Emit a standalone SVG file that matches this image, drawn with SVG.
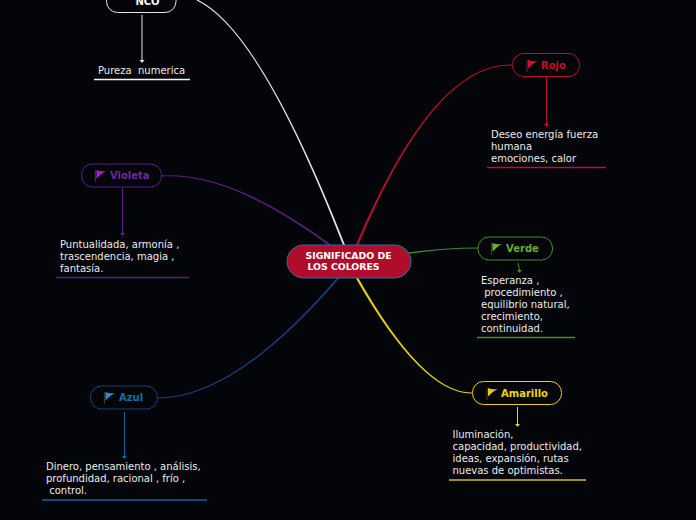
<svg xmlns="http://www.w3.org/2000/svg" width="696" height="520" viewBox="0 0 696 520">
<style>
text{font-family:"DejaVu Sans",Verdana,sans-serif}
.t{font-size:10px;fill:#ececec}
.n{font-size:10px;font-weight:700}
.c{font-size:9.33px;font-weight:700;fill:#fff}
.b{fill:#030508;stroke-width:1}
.pole{stroke:#4a2e22;stroke-width:1.2;fill:none}
</style>
<defs>
<path id="flag" d="M1.500 0Q6 2 11 1Q6 3.500 1.500 8.500Z"/>
</defs>
<rect width="696" height="520" fill="#030508"/>
<g id="connectors">
<path d="M197.300 -0.500Q260.400 29.700 345 245L343 245Q259.600 30.300 196.700 0.500Z" fill="#e6e6e6"/>
<path d="M512 64.500Q433.600 61.600 356 244.500L358 245.500Q434.400 62.400 512 65.500Z" fill="#b80f30"/>
<path d="M162 175.500Q231.400 171.500 330 244L329 245.500Q230.600 172.500 162 176.500Z" fill="#5b1f87"/>
<path d="M409 252.300Q445 247.600 478 247.500L478 248.500Q445 248.400 409 253.700Z" fill="#3f8f2a"/>
<path d="M472 392.500Q423.600 393.500 358 277.500L356 278.500Q422.400 394.500 472 393.500Z" fill="#e8d20c"/>
<path d="M157 397.500Q233.600 398.500 337.400 277.500L339 278.500Q234.400 399.500 157 398.500Z" fill="#173f85"/>
<g fill="none" stroke-width="1">
<path d="M142 15V60" stroke="#e6e6e6"/><path d="M139.500 60h5l-2.500 3z" fill="#e6e6e6"/>
<path d="M546.500 77V124" stroke="#b80f30"/><path d="M544 124h5l-2.500 3z" fill="#b80f30"/>
<path d="M122.500 188V233" stroke="#5b1f87"/><path d="M120 233h5l-2.500 3z" fill="#5b1f87"/>
<path d="M518 263L519.500 270" stroke="#3f8f2a"/><path d="M517 270h5l-2.500 3z" fill="#3f8f2a"/>
<path d="M517.500 407V424" stroke="#e8d20c"/><path d="M515 424h5l-2.500 3z" fill="#e8d20c"/>
<path d="M124.500 412V456" stroke="#0a659c"/><path d="M122 456h5l-2.500 3z" fill="#0a659c"/>
</g>
</g>
<g id="node-center">
<rect x="287" y="245" width="124" height="33" rx="16.500" fill="#b00d2c" stroke="#1e74ae" stroke-width="1"/>
<text class="c" x="348.500" y="259" text-anchor="middle">SIGNIFICADO DE</text>
<text class="c" x="343.500" y="270" text-anchor="middle">LOS COLORES</text>
</g>
<g id="node-nco">
<rect x="106.500" y="-11" width="69.500" height="23.500" rx="11" class="b" stroke="#e6e6e6"/>
<text class="n" x="147.500" y="5" fill="#fff" text-anchor="middle">NCO</text>
</g>
<g id="text-pureza">
<text class="t" x="98" y="74" xml:space="preserve">Pureza  numerica</text>
<path d="M94 79.500H190" stroke="#f2f2f2" stroke-width="1.500"/>
</g>
<g id="node-rojo">
<rect x="512.500" y="53.500" width="67" height="23" rx="11" class="b" stroke="#b80f30"/>
<path d="M527 60V72" class="pole"/><use href="#flag" x="526.500" y="60" fill="#d41030"/>
<text class="n" x="541" y="69" fill="#c00d30">Rojo</text>
</g>
<g id="text-rojo">
<text class="t"><tspan x="491" y="138">Deseo energía fuerza</tspan><tspan x="491" y="150">humana</tspan><tspan x="491" y="162">emociones, calor</tspan></text>
<path d="M487 167.500H606" stroke="#c00d30" stroke-width="1.300"/>
</g>
<g id="node-violeta">
<rect x="81.500" y="164" width="80" height="23" rx="11" class="b" stroke="#5b1f87"/>
<path d="M95.500 170V182" class="pole"/><use href="#flag" x="95" y="170" fill="#a81fd0"/>
<text class="n" x="110" y="179" fill="#6b2a9e">Violeta</text>
</g>
<g id="text-violeta">
<text class="t"><tspan x="60" y="248">Puntualidada, armonía ,</tspan><tspan x="60" y="260">trascendencia, magia ,</tspan><tspan x="60" y="272">fantasía.</tspan></text>
<path d="M56 277.500H189" stroke="#5b1f87" stroke-width="1.500"/>
</g>
<g id="node-verde">
<rect x="478" y="237" width="74.500" height="23" rx="11" class="b" stroke="#3f8f2a"/>
<path d="M491.500 243V255" class="pole"/><use href="#flag" x="491" y="243" fill="#5cb82c"/>
<text class="n" x="506" y="252" fill="#62ad35">Verde</text>
</g>
<g id="text-verde">
<text class="t" xml:space="preserve"><tspan x="481" y="284">Esperanza ,</tspan><tspan x="481" y="296"> procedimiento ,</tspan><tspan x="481" y="308">equilibrio natural,</tspan><tspan x="481" y="320">crecimiento,</tspan><tspan x="481" y="332">continuidad.</tspan></text>
<path d="M477 337.500H575" stroke="#3f8f2a" stroke-width="1.500"/>
</g>
<g id="node-amarillo">
<rect x="472.500" y="381.500" width="89" height="23" rx="11" class="b" stroke="#e8d20c"/>
<path d="M487 388V400" class="pole"/><use href="#flag" x="486.500" y="388" fill="#e8c81c"/>
<text class="n" x="501" y="397" fill="#ecd80c">Amarillo</text>
</g>
<g id="text-amarillo">
<text class="t"><tspan x="452.500" y="438">Iluminación,</tspan><tspan x="452.500" y="450">capacidad, productividad,</tspan><tspan x="452.500" y="462">ideas, expansión, rutas</tspan><tspan x="452.500" y="474">nuevas de optimistas.</tspan></text>
<path d="M449 480H586" stroke="#d4c018" stroke-width="1.500"/>
</g>
<g id="node-azul">
<rect x="90.500" y="386" width="67" height="23" rx="11" class="b" stroke="#173f85"/>
<path d="M104.500 392V404" class="pole"/><use href="#flag" x="104" y="392" fill="#1f8fd8"/>
<text class="n" x="119" y="401" fill="#0a70b0">Azul</text>
</g>
<g id="text-azul">
<text class="t" xml:space="preserve"><tspan x="46" y="470">Dinero, pensamiento , análisis,</tspan><tspan x="46" y="482">profundidad, racional , frío ,</tspan><tspan x="46" y="494"> control.</tspan></text>
<path d="M42 500H207" stroke="#0a659c" stroke-width="1.500"/>
</g>
</svg>
